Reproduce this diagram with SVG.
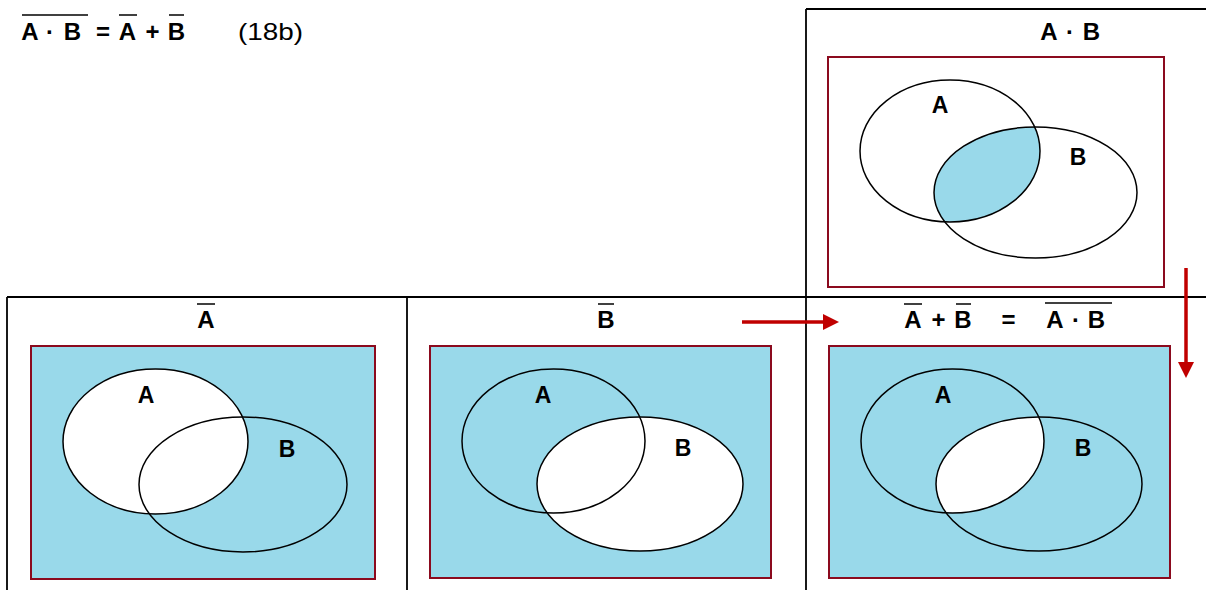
<svg xmlns="http://www.w3.org/2000/svg" width="1206" height="590" viewBox="0 0 1206 590">
<style>
.grid{stroke:#000;stroke-width:1.8;fill:none}
.frame{stroke:#8B0A1E;stroke-width:2}
.blue{fill:#99D9EA}
.wh{fill:#fff}
.ell{fill:none;stroke:#000;stroke-width:1.5}
.lbl{font-family:"Liberation Sans",Arial,sans-serif;font-weight:bold;font-size:23px;text-anchor:middle;fill:#000}
.hd{font-family:"Liberation Sans",Arial,sans-serif;font-weight:bold;font-size:24px;text-anchor:middle;fill:#000}
.ov{stroke:#000;stroke-width:1.5}
.arr{stroke:#C00000;stroke-width:3.5;fill:none}
</style>
<defs>
<marker id="ah" markerUnits="userSpaceOnUse" markerWidth="16" markerHeight="16" viewBox="0 0 16 16" refX="9" refY="8" orient="auto">
<path d="M0,0 L16,8 L0,16 z" fill="#C00000"/>
</marker>
<clipPath id="clipTop"><ellipse cx="950" cy="151" rx="90" ry="71"/></clipPath>
<clipPath id="clipR"><ellipse cx="952.5" cy="441" rx="91.5" ry="72"/></clipPath>
</defs>

<g id="grid">
<line class="grid" x1="806" y1="9" x2="1206" y2="9"/>
<line class="grid" x1="806" y1="9" x2="806" y2="590"/>
<line class="grid" x1="7" y1="297" x2="1206" y2="297"/>
<line class="grid" x1="7" y1="297" x2="7" y2="590"/>
<line class="grid" x1="407" y1="297" x2="407" y2="590"/>
</g>

<g id="formula">
<text class="hd" x="30" y="40">A</text>
<text class="hd" x="50" y="40">·</text>
<text class="hd" x="72.5" y="40">B</text>
<line class="ov" x1="22" y1="15" x2="88" y2="15"/>
<text class="hd" x="103" y="40">=</text>
<text class="hd" x="127.5" y="40">A</text>
<line class="ov" x1="119" y1="15" x2="137" y2="15"/>
<text class="hd" x="152.5" y="40">+</text>
<text class="hd" x="176.5" y="40">B</text>
<line class="ov" x1="169" y1="15" x2="184" y2="15"/>
<text x="238" y="40" font-family="'Liberation Sans',Arial,sans-serif" font-size="24" textLength="65" lengthAdjust="spacingAndGlyphs">(18b)</text>
</g>

<g id="panel-AB">
<text class="hd" x="1049" y="40">A</text>
<text class="hd" x="1070" y="40">·</text>
<text class="hd" x="1091.5" y="40">B</text>
<rect class="frame" x="828" y="57" width="336" height="230" fill="#fff"/>
<ellipse class="blue" cx="1035.5" cy="192.5" rx="101.5" ry="65.5" clip-path="url(#clipTop)"/>
<ellipse class="ell" cx="950" cy="151" rx="90" ry="71"/>
<ellipse class="ell" cx="1035.5" cy="192.5" rx="101.5" ry="65.5"/>
<text class="lbl" x="940" y="113">A</text>
<text class="lbl" x="1078" y="165">B</text>
</g>

<g id="panel-notA">
<text class="hd" x="206" y="328">A</text>
<line class="ov" x1="197" y1="304" x2="215" y2="304"/>
<rect class="frame blue" x="31" y="346" width="344" height="233"/>
<ellipse class="wh" cx="155.5" cy="441.5" rx="92.5" ry="72.5"/>
<ellipse class="ell" cx="155.5" cy="441.5" rx="92.5" ry="72.5"/>
<ellipse class="ell" cx="243" cy="484.5" rx="104" ry="67.5"/>
<text class="lbl" x="146" y="403">A</text>
<text class="lbl" x="287" y="457">B</text>
</g>

<g id="panel-notB">
<text class="hd" x="606" y="328">B</text>
<line class="ov" x1="598" y1="304" x2="614" y2="304"/>
<rect class="frame blue" x="430" y="346" width="341" height="232"/>
<ellipse class="wh" cx="640" cy="484" rx="103" ry="67"/>
<ellipse class="ell" cx="553.5" cy="441" rx="91.5" ry="72"/>
<ellipse class="ell" cx="640" cy="484" rx="103" ry="67"/>
<text class="lbl" x="543" y="403">A</text>
<text class="lbl" x="683" y="456">B</text>
</g>

<g id="panel-result">
<text class="hd" x="913" y="328">A</text>
<line class="ov" x1="904" y1="304" x2="922" y2="304"/>
<text class="hd" x="938.5" y="328">+</text>
<text class="hd" x="963" y="328">B</text>
<line class="ov" x1="956" y1="304" x2="971" y2="304"/>
<text class="hd" x="1008.5" y="328">=</text>
<text class="hd" x="1055" y="328">A</text>
<text class="hd" x="1076" y="328">·</text>
<text class="hd" x="1096.5" y="328">B</text>
<line class="ov" x1="1045" y1="303" x2="1112" y2="303"/>
<rect class="frame blue" x="829" y="346" width="341" height="232"/>
<ellipse class="wh" cx="1039" cy="484" rx="103" ry="67" clip-path="url(#clipR)"/>
<ellipse class="ell" cx="952.5" cy="441" rx="91.5" ry="72"/>
<ellipse class="ell" cx="1039" cy="484" rx="103" ry="67"/>
<text class="lbl" x="943" y="403">A</text>
<text class="lbl" x="1083" y="456">B</text>
</g>

<g id="connectors">
<line class="arr" x1="742" y1="322" x2="832" y2="322" marker-end="url(#ah)"/>
<line class="arr" x1="1186" y1="268" x2="1186" y2="371" marker-end="url(#ah)"/>
</g>
</svg>
